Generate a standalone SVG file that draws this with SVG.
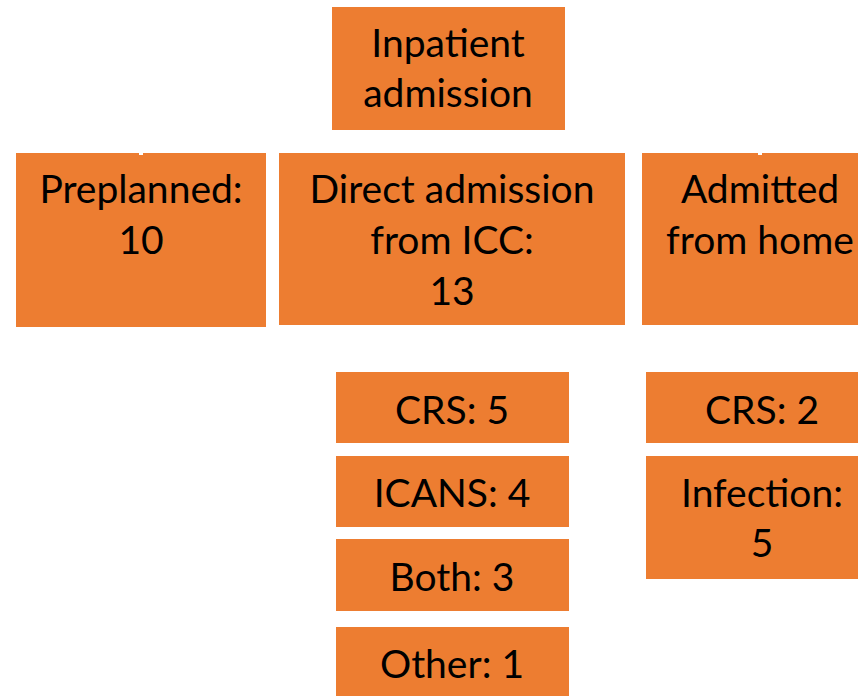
<svg xmlns="http://www.w3.org/2000/svg" width="858" height="696" viewBox="0 0 858 696">
  <style>
    .box { fill: #ED7D31; }
    .lbl { font-family: Lato, "Liberation Sans", sans-serif; font-size: 39px; fill: #000000; text-anchor: middle; }
    .tick { fill: #FFFFFF; }
  </style>
  <rect width="858" height="696" fill="#FFFFFF"/>

  <g id="node-inpatient">
    <rect class="box" x="332" y="7" width="233" height="123"/>
    <text class="lbl" x="448" y="57">Inpatient</text>
    <text class="lbl" x="448" y="107">admission</text>
  </g>

  <g id="node-preplanned">
    <rect class="box" x="16" y="153" width="250" height="174"/>
    <text class="lbl" x="141" y="203">Preplanned:</text>
    <text class="lbl" x="141" y="254">10</text>
  </g>

  <g id="node-direct">
    <rect class="box" x="279" y="153" width="346" height="172"/>
    <text class="lbl" x="452" y="203">Direct admission</text>
    <text class="lbl" x="452" y="254">from ICC:</text>
    <text class="lbl" x="452" y="305">13</text>
  </g>

  <g id="node-home">
    <rect class="box" x="642" y="153" width="236" height="172"/>
    <text class="lbl" x="760" y="203">Admitted</text>
    <text class="lbl" x="760" y="254">from home</text>
  </g>

  <g id="node-crs5">
    <rect class="box" x="336" y="372" width="233" height="71"/>
    <text class="lbl" x="452" y="424">CRS: 5</text>
  </g>

  <g id="node-icans4">
    <rect class="box" x="336" y="456" width="233" height="71"/>
    <text class="lbl" x="452" y="507">ICANS: 4</text>
  </g>

  <g id="node-both3">
    <rect class="box" x="336" y="539" width="233" height="72"/>
    <text class="lbl" x="452" y="591">Both: 3</text>
  </g>

  <g id="node-other1">
    <rect class="box" x="336" y="627" width="233" height="69"/>
    <text class="lbl" x="452" y="678">Other: 1</text>
  </g>

  <g id="node-crs2">
    <rect class="box" x="646" y="372" width="232" height="71"/>
    <text class="lbl" x="762" y="424">CRS: 2</text>
  </g>

  <g id="node-infection">
    <rect class="box" x="646" y="456" width="232" height="123"/>
    <text class="lbl" x="762" y="507">Infection:</text>
    <text class="lbl" x="762" y="557">5</text>
  </g>

  <!-- stubs of the connector ends where they meet the box tops -->
  <g id="connectors">
    <rect class="tick" x="139" y="150" width="4" height="5"/>
    <rect class="tick" x="758" y="150" width="4" height="5"/>
  </g>
</svg>
